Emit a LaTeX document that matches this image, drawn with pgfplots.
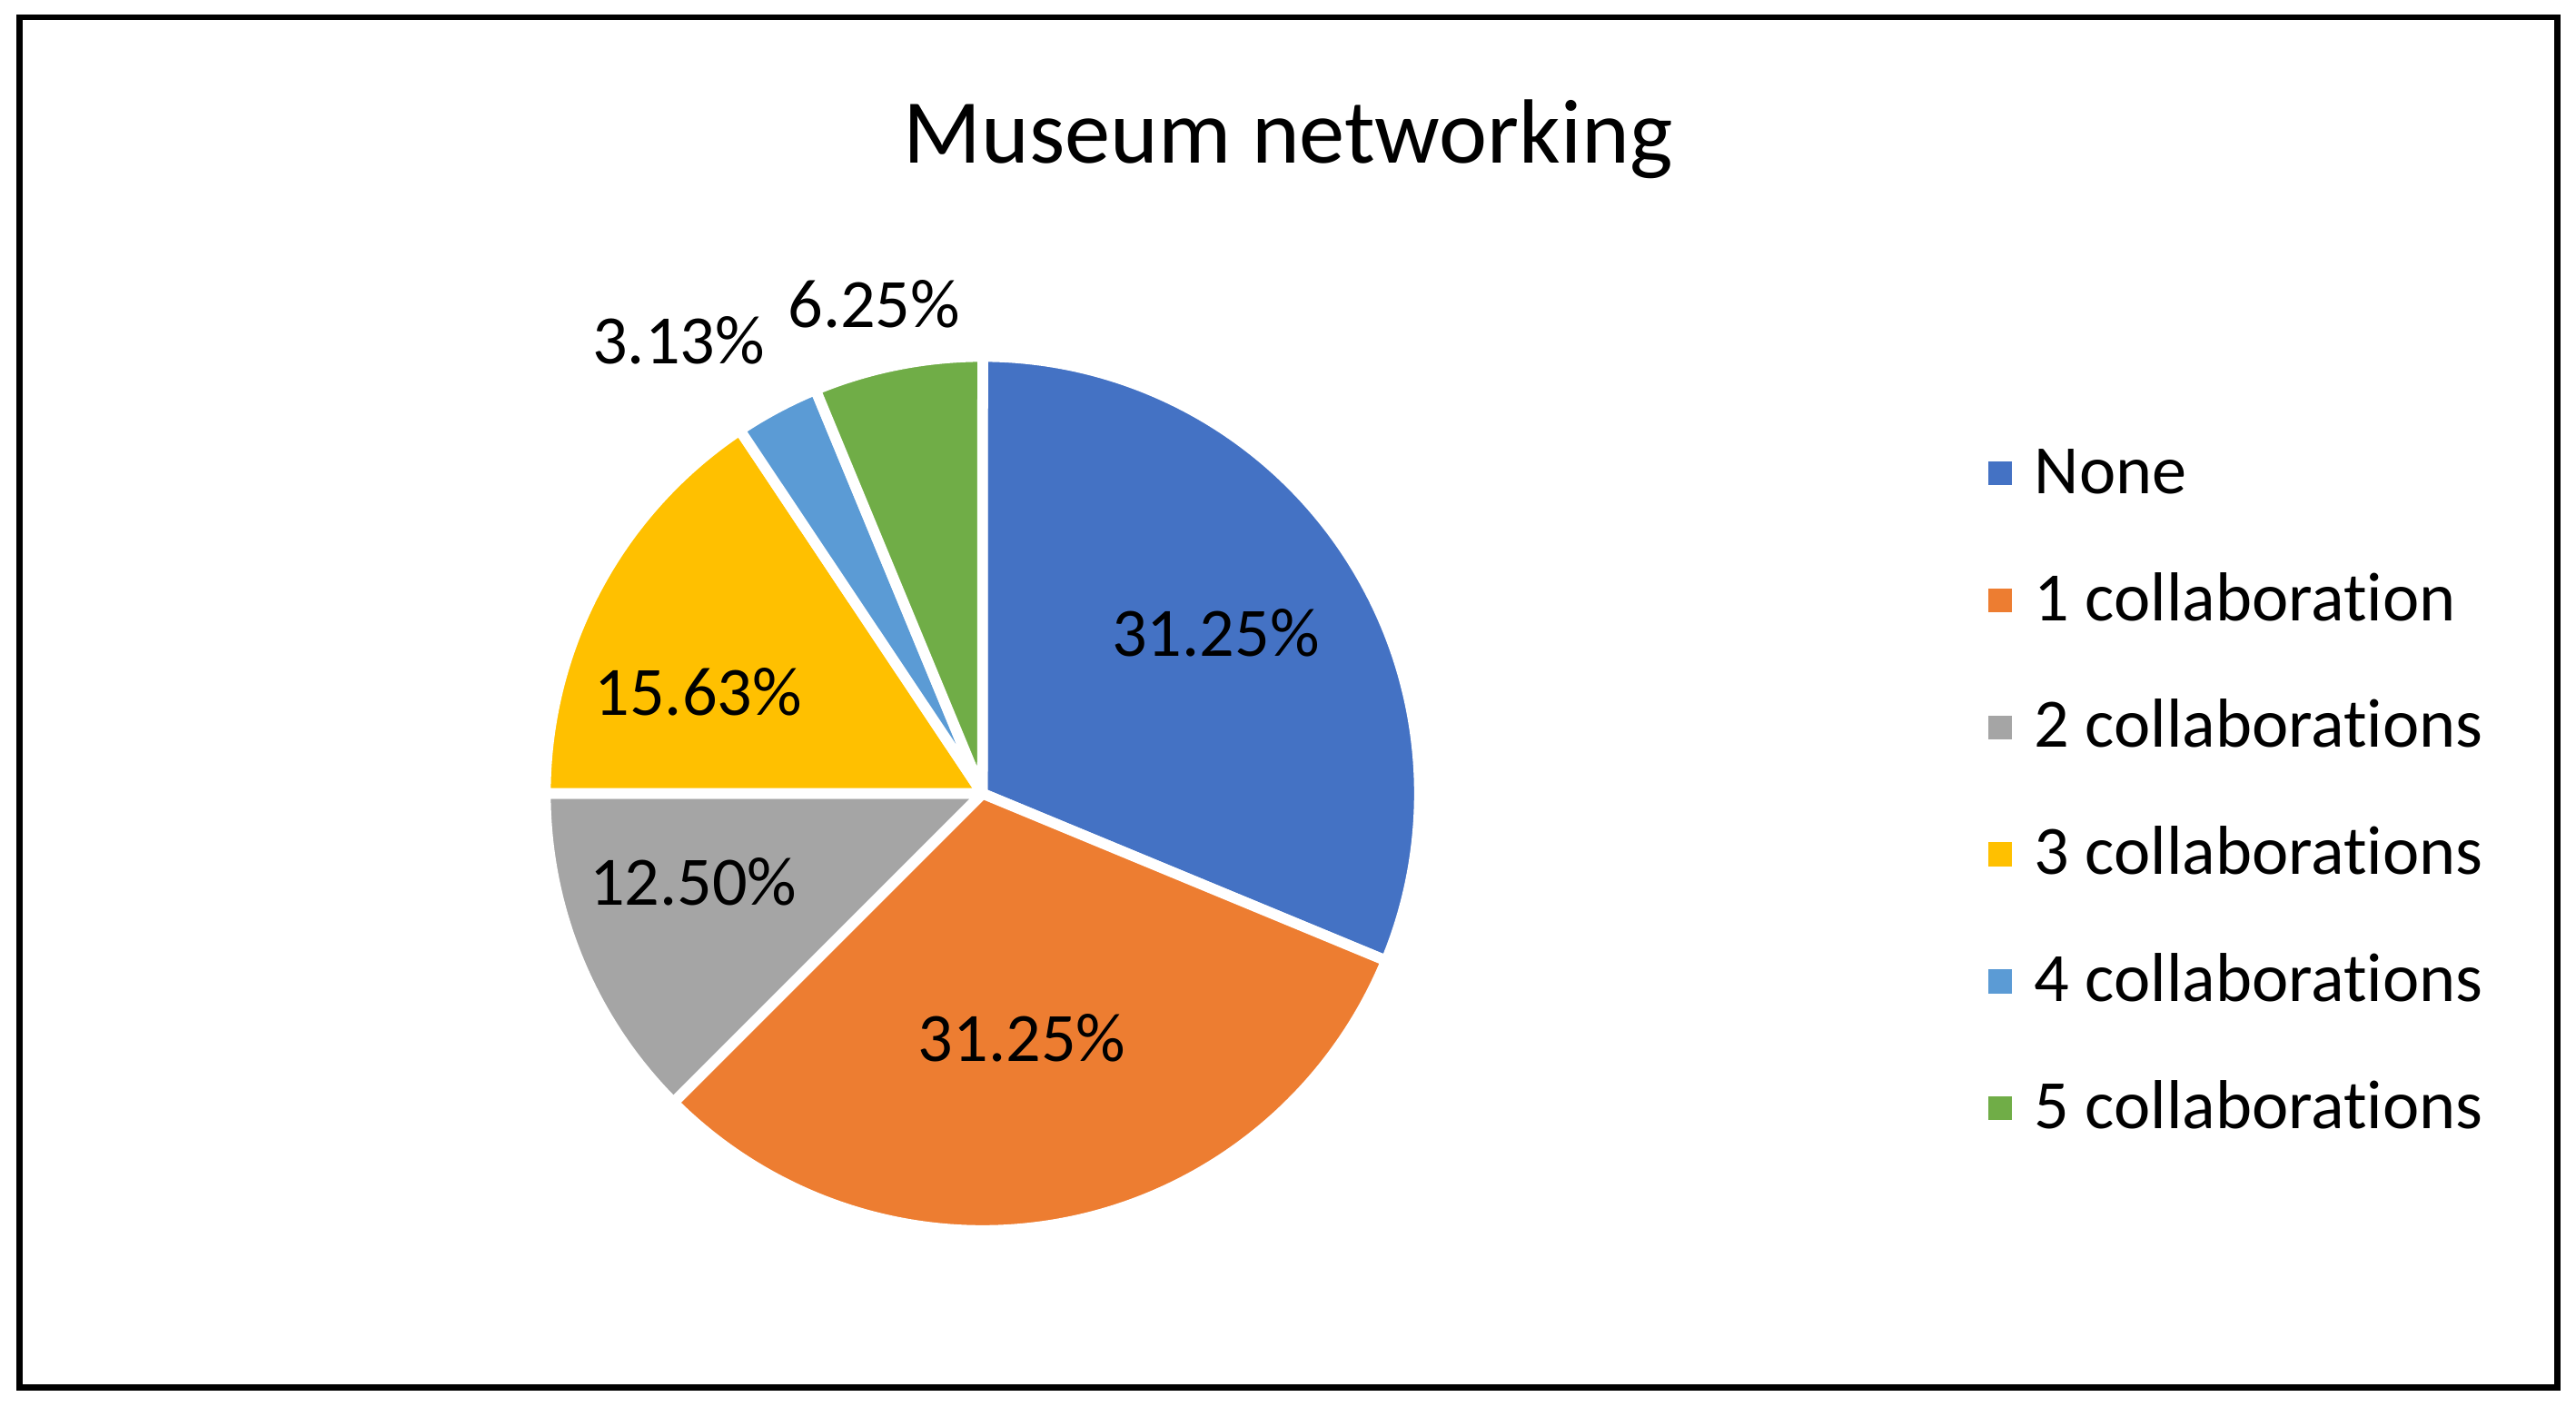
\documentclass[border=0pt]{standalone}
\usepackage{fontspec}
\setmainfont{Carlito}[Ligatures=NoCommon]
\usepackage{pgfplots}
\usepackage{pgfplotstable}
\pgfplotsset{compat=1.18}

\definecolor{c0}{HTML}{4472C4}
\definecolor{c1}{HTML}{ED7D31}
\definecolor{c2}{HTML}{A5A5A5}
\definecolor{c3}{HTML}{FFC000}
\definecolor{c4}{HTML}{5B9BD5}
\definecolor{c5}{HTML}{70AD47}

% share in percent, label centre (lx, ly) in picture units (0.1 mm)
\pgfplotstableread[col sep=comma]{
label,value,lx,ly
None,31.25,740,471
1 collaboration,31.25,622,224
2 collaborations,12.50,422,319
3 collaborations,15.63,425,435
4 collaborations,3.13,413,649
5 collaborations,6.25,532,671
}\piedata

\begin{document}
\begin{tikzpicture}
\useasboundingbox (0,0) rectangle (156.8mm,85.6mm);
\begin{axis}[
    scale only axis,
    width=156.8mm, height=85.6mm,
    xmin=0, xmax=1568, ymin=0, ymax=856,
    hide axis, clip=false,
    legend cell align=left,
    legend image code/.code={\fill[#1, draw=none] (0mm,-0.55mm) rectangle (1.45mm,0.9mm); \path (2.75mm,0);},
    legend style={at={(axis cs:1199,595)}, anchor=north west, draw=none, fill=none,
        font=\fontsize{12}{14}\selectfont, row sep=10pt, column sep=0pt,
        nodes={inner sep=0pt, text height=9pt, text depth=3pt}},
]
% frame and title
\draw[line width=0.38mm] (axis cs:12,11.5) rectangle (axis cs:1556.5,845.5);
\node[anchor=base, font=\fontsize{15.8}{19}\selectfont] at (axis cs:784,757) {Museum networking};

% slices, clockwise from 12 o'clock
\def\startang{90}
\pgfplotsforeachungrouped \i in {0,...,5}{%
  \pgfplotstablegetelem{\i}{value}\of\piedata
  \let\val\pgfplotsretval
  \pgfmathsetmacro\endang{\startang-3.6*\val}%
  \pgfplotstablegetelem{\i}{lx}\of\piedata \let\lx\pgfplotsretval
  \pgfplotstablegetelem{\i}{ly}\of\piedata \let\ly\pgfplotsretval
  \edef\slice{%
    \noexpand\filldraw[fill=c\i, draw=white, line width=0.65mm, line join=round]
      (axis cs:598,373) -- ++(\startang:26.6mm)
      arc[start angle=\startang, end angle=\endang, radius=26.6mm] -- cycle;
    \noexpand\node[font=\noexpand\fontsize{12}{14}\noexpand\selectfont]
      at (axis cs:\lx,\ly) {\val\noexpand\%};
  }%
  \slice
  \global\let\startang\endang
}

\addlegendimage{fill=c0}\addlegendentry{None}
\addlegendimage{fill=c1}\addlegendentry{1 collaboration}
\addlegendimage{fill=c2}\addlegendentry{2 collaborations}
\addlegendimage{fill=c3}\addlegendentry{3 collaborations}
\addlegendimage{fill=c4}\addlegendentry{4 collaborations}
\addlegendimage{fill=c5}\addlegendentry{5 collaborations}
\end{axis}
\end{tikzpicture}
\end{document}
